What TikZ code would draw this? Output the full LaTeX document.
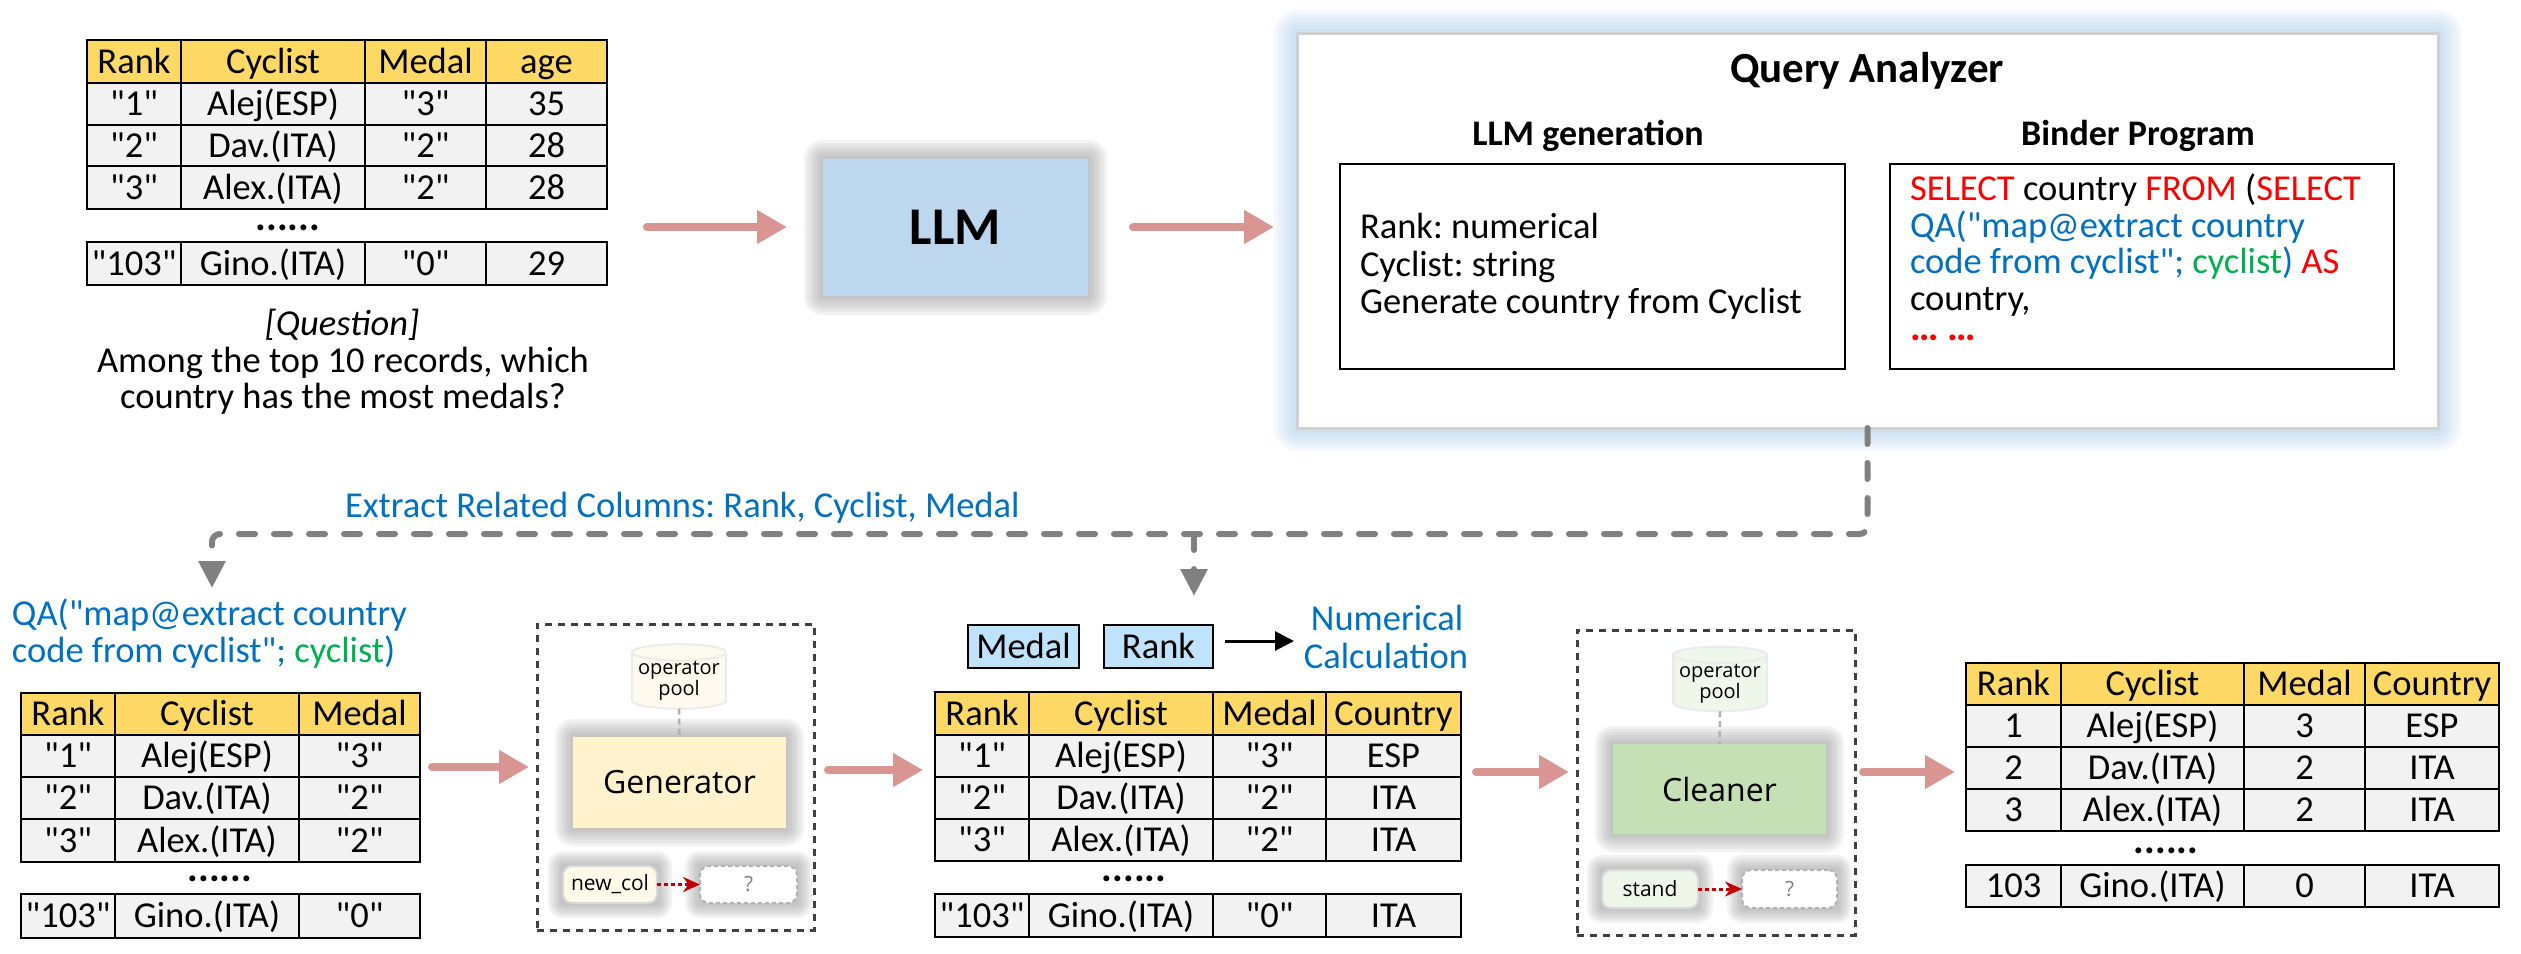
\documentclass[tikz,border=0pt]{standalone}
\usepackage{fontspec}
\setmainfont{Carlito}[Ligatures=TeXOff]
\newfontfamily\osans{Open Sans}
\usetikzlibrary{arrows.meta,shapes.geometric}
\frenchspacing
\definecolor{hdr}{HTML}{FFD966}
\definecolor{cellbg}{HTML}{F2F2F2}
\definecolor{pinkarr}{RGB}{217,149,145}
\definecolor{qblue}{HTML}{0070C0}
\definecolor{qgreen}{HTML}{00B050}
\definecolor{qred}{HTML}{FF0000}
\definecolor{llmblue}{HTML}{BDD7EE}
\definecolor{genyel}{HTML}{FFF2CC}
\definecolor{clngreen}{HTML}{C5E0B4}
\definecolor{boxblue}{HTML}{BFE3FA}
\definecolor{glowblue}{HTML}{9DC3E6}
\definecolor{dred}{HTML}{C00000}
\definecolor{poolyel}{HTML}{FEFAEE}
\definecolor{poolgrn}{HTML}{EFF6EA}
\definecolor{newcolf}{HTML}{FEF9E8}
\definecolor{standf}{HTML}{EEF5E9}
\definecolor{dashgray}{HTML}{808080}
\definecolor{boxdash}{HTML}{404040}
\newcommand\fs{\fontsize{36.5}{37.5}\selectfont}
\tikzset{
  tcell/.style={draw=black, line width=2.5pt, text height=31pt, text depth=7.5pt, align=center},
  parrow/.style={pinkarr, line width=8pt, line cap=round, -{Triangle[length=30pt,width=32pt]}},
  gdash/.style={draw=dashgray, line width=6pt, line cap=round, dash pattern=on 16pt off 19pt},
  gtip/.style={-{Triangle[length=27pt,width=26pt]}},
  outerbox/.style={draw=boxdash, line width=3pt, dash pattern=on 7pt off 6pt},
  poolst/.style={cylinder, shape border rotate=90, aspect=0.2, draw=black!8, line width=2pt, align=center, font={\osans\fontsize{20}{21}\selectfont}},
  smallbox/.style={rounded corners=9pt, draw=black!15, line width=2pt, font={\osans\fontsize{21}{21}\selectfont}},
  qbox/.style={rounded corners=9pt, draw=black!30, line width=2pt, dash pattern=on 4pt off 3pt, fill=white, text=black!50, font={\osans\fontsize{21}{21}\selectfont}},
  redarr/.style={dred, line width=3pt, dash pattern=on 4pt off 3pt, -{Stealth[length=17pt,width=15pt]}},
  pooldash/.style={draw=black!30, line width=2.5pt, dash pattern=on 6pt off 4pt},
  dots/.style={font={\bfseries\fontsize{40}{40}\selectfont}}
}
\newcommand\trow[5]{%
  \foreach \xa/\xb/\tx [count=\ci] in {#5}{%
    \node[tcell, fill=#4, minimum width={\xb-\xa}, minimum height={#3-#2}] (#1-\ci) at ({(\xa+\xb)/2},{(#2+#3)/2}) {\tx};
  }}
\newcommand\glowbox[6]{%
  \foreach \k in {6,5,...,1}{%
    \pgfmathsetmacro\gs{#6*\k/6}%
    \fill[#5, opacity=0.11, rounded corners={\gs pt}] (#1-\gs,#2-\gs) rectangle (#3+\gs,#4+\gs);
  }}
\begin{document}
\begin{tikzpicture}[x=1pt,y=-1pt, every node/.style={inner sep=0pt, outer sep=0pt, font=\fs}]
\useasboundingbox (0,0) rectangle (2521,953);

% ---------- glows
\glowbox{823}{159}{1088}{296}{black!45}{19}
\glowbox{1297}{33}{2438}{428}{glowblue}{23}
\glowbox{573}{737}{786}{828}{black!45}{18}
\glowbox{563}{866}{657}{903}{black!45}{15}
\glowbox{700}{866}{797}{903}{black!45}{15}
\glowbox{1613}{744}{1826}{834}{black!45}{18}
\glowbox{1602}{870}{1698}{908}{black!45}{15}
\glowbox{1742}{870}{1837}{908}{black!45}{15}

% ---------- table 1 (input)
\trow{ta0}{40}{83}{hdr}{87/181/Rank, 181/365/Cyclist, 365/486/Medal, 486/607/age}
\trow{ta1}{83}{125}{cellbg}{87/181/"1", 181/365/Alej(ESP), 365/486/"3", 486/607/35}
\trow{ta2}{125}{166}{cellbg}{87/181/"2", 181/365/Dav.(ITA), 365/486/"2", 486/607/28}
\trow{ta3}{166}{209}{cellbg}{87/181/"3", 181/365/Alex.(ITA), 365/486/"2", 486/607/28}
\trow{ta4}{242}{285}{cellbg}{87/181/"103", 181/365/Gino.(ITA), 365/486/"0", 486/607/29}
\node[dots] (tadots) at (288,228) {......};
\node[anchor=base, font={\fs\itshape}] (qlab) at (342,335) {[Question]};
\node[anchor=base] (ql1) at (343,372) {Among the top 10 records, which};
\node[anchor=base] (ql2) at (343,408) {country has the most medals?};

% ---------- LLM
\node[fill=llmblue, minimum width=265, minimum height=137, font={\bfseries\fontsize{53}{53}\selectfont}] (llm) at (955.5,227.5) {LLM};

% ---------- Query analyzer
\node[draw=black!18, line width=3pt, fill=white, minimum width=1141, minimum height=395] (qa) at (1867.5,230.5) {};
\node[anchor=base, font={\bfseries\fontsize{43}{43}\selectfont}] (qah) at (1867,82) {Query Analyzer};
\node[anchor=base, font={\bfseries\fontsize{36}{36}\selectfont}] (llmg) at (1588,145) {LLM generation};
\node[anchor=base, font={\bfseries\fontsize{36}{36}\selectfont}] (binh) at (2138,145) {Binder Program};
\node[draw=black, line width=2.5pt, minimum width=505, minimum height=205] (lgbox) at (1592.5,266.5) {};
\node[draw=black, line width=2.5pt, minimum width=504, minimum height=205] (bpbox) at (2142,266.5) {};
\node[anchor=base west] (lg1) at (1360,238) {Rank: numerical};
\node[anchor=base west] (lg2) at (1360,276) {Cyclist: string};
\node[anchor=base west] (lg3) at (1360,313) {Generate country from Cyclist};
\node[anchor=base west] (bp1) at (1910,200) {\textcolor{qred}{SELECT} country \textcolor{qred}{FROM} (\textcolor{qred}{SELECT}};
\node[anchor=base west, text=qblue] (bp2) at (1910,237) {QA("map@extract country};
\node[anchor=base west] (bp3) at (1910,273) {\textcolor{qblue}{code from cyclist";} \textcolor{qgreen}{cyclist}\textcolor{qblue}{)} \textcolor{qred}{AS}};
\node[anchor=base west] (bp4) at (1910,310) {country,};
\node[anchor=base west, text=qred, font={\bfseries\fontsize{40}{40}\selectfont}] (bp5) at (1910,340) {… …};

% ---------- top arrows
\coordinate (a1s) at (647,227); \coordinate (a1e) at (787,227);
\coordinate (a2s) at (1133,227); \coordinate (a2e) at (1274,227);
\draw[parrow] (a1s) -- (a1e);
\draw[parrow] (a2s) -- (a2e);

% ---------- extract connector
\node[anchor=base west, text=qblue] (ext) at (345,517) {Extract Related Columns: Rank, Cyclist, Medal};
\coordinate (qdown) at (1867.5,534);
\coordinate (tleft) at (212,588);
\coordinate (brs) at (1194,534);
\coordinate (bre) at (1194,596);
\draw[gdash, gtip, rounded corners=8pt] (qa.south) -- (qdown) -| (tleft);
\draw[gdash, gtip] (brs) -- (bre);

% ---------- table 2
\node[anchor=base west, text=qblue] (qa1) at (12,625) {QA("map@extract country};
\node[anchor=base west] (qa2) at (12,662) {\textcolor{qblue}{code from cyclist";} \textcolor{qgreen}{cyclist}\textcolor{qblue}{)}};
\trow{tb0}{693}{735}{hdr}{21/115/Rank, 115/299/Cyclist, 299/420/Medal}
\trow{tb1}{735}{777}{cellbg}{21/115/"1", 115/299/Alej(ESP), 299/420/"3"}
\trow{tb2}{777}{819}{cellbg}{21/115/"2", 115/299/Dav.(ITA), 299/420/"2"}
\trow{tb3}{819}{862}{cellbg}{21/115/"3", 115/299/Alex.(ITA), 299/420/"2"}
\trow{tb4}{894}{938}{cellbg}{21/115/"103", 115/299/Gino.(ITA), 299/420/"0"}
\node[dots] (tbdots) at (220,879) {......};

% ---------- generator
\node[outerbox, minimum width=277, minimum height=306] (genbox) at (675.5,777) {};
\node[poolst, fill=poolyel, minimum width=94, minimum height=58] (pool1) at (679,681) {operator\\pool};
\node[fill=genyel, minimum width=213, minimum height=91, font={\osans\fontsize{32}{32}\selectfont}] (gen) at (679.5,782.5) {Generator};
\draw[pooldash] (pool1.south) -- (gen.north);
\node[smallbox, fill=newcolf, minimum width=94, minimum height=37] (nc) at (610,884.5) {new\_col};
\node[qbox, minimum width=97, minimum height=37] (q1) at (748.5,884.5) {?};
\draw[redarr] (nc.east) -- (q1.west);

\coordinate (a3s) at (432,767); \coordinate (a3e) at (529,767);
\coordinate (a4s) at (828,770); \coordinate (a4e) at (923,770);
\draw[parrow] (a3s) -- (a3e);
\draw[parrow] (a4s) -- (a4e);

% ---------- table 3
\node[tcell, fill=boxblue, minimum width=111, minimum height=43] (md) at (1023.5,646.5) {Medal};
\node[tcell, fill=boxblue, minimum width=109, minimum height=43] (rk) at (1158.5,646.5) {Rank};
\coordinate (numc) at (1294,641);
\draw[line width=3pt, -{Triangle[length=19pt,width=19pt]}] ([xshift=12pt,yshift=5.5pt]rk.east) -- (numc);
\node[anchor=base, text=qblue] (num1) at (1387,630) {Numerical};
\node[anchor=base, text=qblue] (num2) at (1386,668) {Calculation};
\trow{tc0}{692}{735}{hdr}{935/1029/Rank, 1029/1213/Cyclist, 1213/1326/Medal, 1326/1461/Country}
\trow{tc1}{735}{777}{cellbg}{935/1029/"1", 1029/1213/Alej(ESP), 1213/1326/"3", 1326/1461/ESP}
\trow{tc2}{777}{819}{cellbg}{935/1029/"2", 1029/1213/Dav.(ITA), 1213/1326/"2", 1326/1461/ITA}
\trow{tc3}{819}{861}{cellbg}{935/1029/"3", 1029/1213/Alex.(ITA), 1213/1326/"2", 1326/1461/ITA}
\trow{tc4}{894}{937}{cellbg}{935/1029/"103", 1029/1213/Gino.(ITA), 1213/1326/"0", 1326/1461/ITA}
\node[dots] (tcdots) at (1134,879) {......};

% ---------- cleaner
\node[outerbox, minimum width=278, minimum height=305] (clnbox) at (1716,782.5) {};
\node[poolst, fill=poolgrn, minimum width=94, minimum height=57] (pool2) at (1720,683.5) {operator\\pool};
\node[fill=clngreen, minimum width=213, minimum height=90, font={\osans\fontsize{32}{32}\selectfont}] (cln) at (1719.5,789) {Cleaner};
\draw[pooldash] (pool2.south) -- (cln.north);
\node[smallbox, fill=standf, minimum width=96, minimum height=38] (st) at (1650,889) {stand};
\node[qbox, minimum width=95, minimum height=38] (q2) at (1789.5,889) {?};
\draw[redarr] (st.east) -- (q2.west);

\coordinate (a5s) at (1476,772); \coordinate (a5e) at (1569,772);
\coordinate (a6s) at (1863,772); \coordinate (a6e) at (1955,772);
\draw[parrow] (a5s) -- (a5e);
\draw[parrow] (a6s) -- (a6e);

% ---------- table 4
\trow{td0}{663}{705}{hdr}{1966/2061/Rank, 2061/2244/Cyclist, 2244/2365/Medal, 2365/2499/Country}
\trow{td1}{705}{747}{cellbg}{1966/2061/1, 2061/2244/Alej(ESP), 2244/2365/3, 2365/2499/ESP}
\trow{td2}{747}{789}{cellbg}{1966/2061/2, 2061/2244/Dav.(ITA), 2244/2365/2, 2365/2499/ITA}
\trow{td3}{789}{831}{cellbg}{1966/2061/3, 2061/2244/Alex.(ITA), 2244/2365/2, 2365/2499/ITA}
\trow{td4}{865}{907}{cellbg}{1966/2061/103, 2061/2244/Gino.(ITA), 2244/2365/0, 2365/2499/ITA}
\node[dots] (tddots) at (2166,851) {......};
\end{tikzpicture}
\end{document}
